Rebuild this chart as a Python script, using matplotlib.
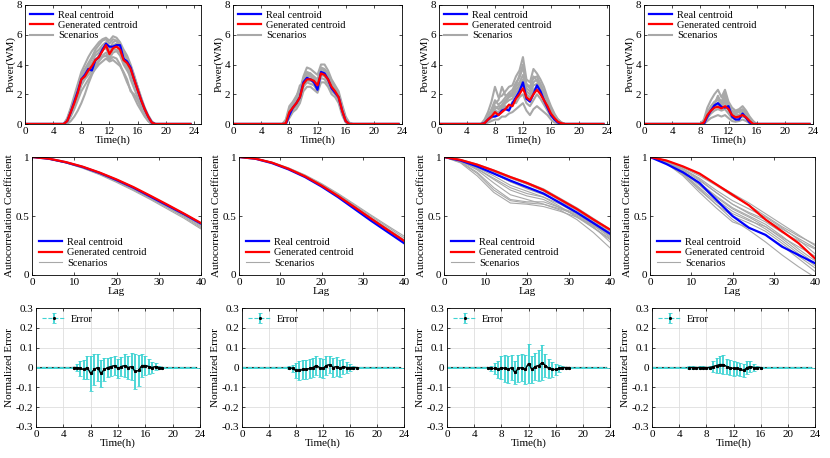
import numpy as np
import matplotlib
matplotlib.use('Agg')
import matplotlib.pyplot as plt
from matplotlib.ticker import FuncFormatter

plt.rcParams['font.family'] = ['Liberation Serif', 'DejaVu Serif']
plt.rcParams['axes.unicode_minus'] = False
plt.rcParams['font.size'] = 8

# half-hour time grid, 0 .. 23.5 h
t = np.arange(48) * 0.5
lag = np.arange(0, 41, 4)

def pad(start, vals):
    # values read only for the daylight part, zero elsewhere
    k = int(round(start * 2))
    return np.array([0.0] * k + list(vals) + [0.0] * (48 - k - len(vals)))

# ---- row 1: power profiles (daylight part, half-hour steps) ----
start_1 = 5.5
real_1 = [0, 0.2, 0.8, 1.5, 2.2, 3.0, 3.3, 3.7, 3.6, 4.3, 4.5, 5.0, 5.4, 5.2, 5.2, 5.3, 5.3, 4.4, 4.2, 3.8, 3.0, 2.3, 1.6, 1.0, 0.5, 0.1, 0]
gen_1 = [0, 0.2, 0.8, 1.4, 2.1, 3.0, 3.2, 3.6, 3.9, 4.3, 4.5, 4.9, 5.3, 4.7, 5.1, 5.2, 5.0, 4.3, 4.1, 3.7, 3.0, 2.3, 1.6, 1.0, 0.5, 0.1, 0]
scen_1 = [
    [0, 0.4, 1.1, 1.9, 2.7, 3.5, 4.0, 4.5, 4.9, 5.2, 5.5, 5.7, 5.8, 5.6, 5.9, 5.8, 5.5, 5.0, 4.6, 4.0, 3.3, 2.5, 1.8, 1.1, 0.5, 0.1, 0],
    [0, 0, 0.2, 0.5, 0.9, 1.4, 2.0, 2.7, 3.3, 3.8, 4.2, 4.5, 4.6, 4.3, 4.5, 4.4, 4.0, 3.4, 2.8, 2.3, 1.8, 1.3, 0.9, 0.5, 0.2, 0, 0],
    [0, 0.3, 1.0, 1.7, 2.5, 3.2, 3.5, 3.9, 4.4, 4.8, 5.0, 5.3, 5.5, 5.0, 5.5, 5.6, 5.2, 4.7, 4.4, 3.9, 3.2, 2.5, 1.7, 1.1, 0.6, 0.2, 0],
    [0, 0.1, 0.6, 1.2, 1.8, 2.6, 3.0, 3.3, 3.6, 4.0, 4.3, 4.6, 4.8, 4.4, 4.8, 4.9, 4.6, 4.0, 3.6, 3.2, 2.6, 2.0, 1.4, 0.8, 0.3, 0, 0],
    [0, 0.2, 0.9, 1.6, 2.4, 3.3, 3.7, 4.1, 4.5, 5.0, 5.3, 5.6, 5.7, 5.4, 5.7, 5.6, 5.3, 4.9, 4.4, 3.6, 2.9, 2.1, 1.4, 0.8, 0.3, 0.05, 0],
    [0, 0.1, 0.5, 1.0, 1.6, 2.2, 2.6, 3.0, 3.4, 3.7, 4.0, 4.2, 4.4, 4.2, 4.3, 4.1, 3.9, 3.5, 3.0, 2.2, 2.0, 1.6, 1.1, 0.6, 0.2, 0, 0],
    [0, 0.3, 0.9, 1.5, 2.2, 2.9, 3.4, 3.8, 4.1, 4.6, 4.8, 5.1, 5.2, 4.9, 5.3, 5.4, 5.1, 4.5, 4.0, 3.4, 2.7, 1.9, 1.3, 0.8, 0.4, 0.1, 0],
    [0, 0.2, 0.7, 1.3, 2.0, 2.8, 3.1, 3.5, 3.8, 4.2, 4.6, 5.0, 5.1, 4.6, 5.0, 5.0, 4.8, 4.2, 3.8, 3.0, 2.4, 1.8, 1.2, 0.7, 0.3, 0.05, 0],
]

start_2 = 7.0
real_2 = [0, 0, 0.6, 1.1, 1.4, 1.8, 2.8, 3.1, 3.0, 2.8, 2.3, 3.5, 3.4, 3.0, 2.4, 2.1, 1.8, 0.9, 0.2, 0, 0]
gen_2 = [0, 0.05, 0.8, 1.1, 1.4, 1.8, 2.7, 3.0, 3.0, 2.9, 2.6, 3.4, 3.3, 3.0, 2.5, 2.2, 1.8, 0.9, 0.2, 0, 0]
scen_2 = [
    [0, 0.3, 1.2, 1.5, 1.9, 2.3, 3.2, 3.8, 3.7, 3.5, 3.3, 4.0, 4.0, 3.6, 3.0, 2.6, 2.2, 1.3, 0.5, 0.1, 0],
    [0, 0, 0.4, 0.8, 1.0, 1.4, 2.2, 2.5, 2.5, 2.3, 2.1, 2.8, 2.8, 2.5, 2.0, 1.8, 1.4, 0.6, 0.1, 0, 0],
    [0, 0.2, 0.9, 1.3, 1.6, 2.1, 3.0, 3.4, 3.3, 3.1, 2.8, 3.7, 3.6, 3.3, 2.8, 2.4, 2.0, 1.1, 0.3, 0, 0],
    [0, 0.1, 0.7, 1.0, 1.2, 1.6, 2.5, 2.8, 2.7, 2.6, 2.4, 3.1, 3.0, 2.7, 2.2, 2.0, 1.6, 0.8, 0.2, 0, 0],
    [0, 0.2, 1.0, 1.4, 1.7, 2.0, 2.9, 3.2, 3.2, 3.0, 2.7, 3.5, 3.5, 3.2, 2.6, 2.3, 1.9, 1.0, 0.3, 0.05, 0],
    [0, 0.05, 0.5, 0.9, 1.3, 1.7, 2.6, 2.9, 2.9, 2.8, 2.5, 3.3, 3.2, 2.9, 2.5, 2.1, 1.7, 0.8, 0.2, 0, 0],
    [0, 0.1, 0.6, 1.2, 1.8, 2.6, 2.7, 3.2, 3.4, 3.2, 3.0, 3.8, 3.7, 3.4, 2.7, 2.4, 2.0, 1.2, 0.4, 0.05, 0],
    [0, 0.15, 0.8, 1.2, 1.5, 1.9, 3.0, 3.5, 3.4, 2.6, 2.2, 3.6, 3.3, 3.1, 2.7, 2.3, 1.9, 1.0, 0.3, 0, 0],
]

start_3 = 6.0
real_3 = [0, 0.05, 0.3, 0.5, 0.5, 0.6, 0.9, 1.0, 0.9, 1.4, 1.8, 2.2, 2.8, 1.7, 1.5, 2.0, 2.6, 2.2, 1.6, 1.1, 0.6, 0.3, 0.1, 0, 0]
gen_3 = [0, 0.05, 0.3, 0.5, 0.8, 0.6, 0.8, 1.0, 1.3, 1.2, 1.7, 2.0, 2.4, 1.8, 1.6, 2.0, 2.3, 2.0, 1.6, 1.2, 0.7, 0.4, 0.15, 0.05, 0]
scen_3 = [
    [0, 0.3, 0.8, 1.5, 2.5, 1.8, 1.9, 2.2, 2.5, 2.6, 3.2, 3.6, 4.5, 3.0, 2.8, 3.7, 3.4, 3.0, 2.5, 1.8, 1.2, 0.7, 0.3, 0.1, 0],
    [0, 0, 0.1, 0.2, 0.3, 0.3, 0.5, 0.5, 0.7, 0.8, 1.0, 1.2, 1.4, 0.9, 0.6, 1.0, 1.2, 1.0, 0.8, 0.6, 0.3, 0.1, 0.05, 0, 0],
    [0, 0.1, 0.4, 0.8, 1.2, 1.0, 1.3, 1.6, 1.9, 2.0, 2.5, 2.8, 3.3, 2.4, 2.2, 2.8, 3.0, 2.6, 2.1, 1.5, 1.0, 0.6, 0.3, 0.1, 0],
    [0, 0.05, 0.2, 0.4, 0.6, 0.7, 1.0, 1.2, 1.0, 1.5, 1.4, 1.8, 2.0, 1.4, 1.2, 1.6, 2.0, 1.7, 1.3, 0.9, 0.5, 0.3, 0.1, 0, 0],
    [0, 0.2, 0.5, 1.0, 1.6, 1.3, 1.5, 1.8, 2.1, 2.3, 2.8, 3.1, 3.8, 2.7, 2.5, 3.2, 2.9, 2.4, 1.9, 1.4, 0.9, 0.5, 0.2, 0.05, 0],
    [0, 0.1, 0.3, 0.6, 0.9, 0.8, 1.1, 1.4, 1.6, 1.7, 2.1, 2.4, 2.7, 2.0, 1.8, 2.3, 2.5, 2.2, 1.7, 1.2, 0.7, 0.4, 0.15, 0, 0],
    [0, 0.1, 0.5, 0.9, 1.4, 1.6, 2.5, 1.9, 2.0, 2.1, 2.6, 3.3, 4.0, 2.6, 2.4, 3.1, 3.2, 2.7, 2.2, 1.6, 1.1, 0.6, 0.3, 0.1, 0],
    [0, 0.05, 0.3, 0.7, 1.0, 1.2, 1.2, 1.5, 1.8, 1.9, 2.3, 2.6, 3.0, 2.2, 2.0, 2.6, 2.7, 2.4, 1.9, 1.4, 0.8, 0.5, 0.2, 0.05, 0],
]

start_4 = 8.0
real_4 = [0, 0, 0.5, 0.9, 1.25, 1.4, 1.15, 1.1, 1.2, 0.5, 0.3, 0.3, 0.7, 0.4, 0.1, 0, 0]
gen_4 = [0, 0.1, 0.6, 0.9, 1.1, 1.15, 1.05, 1.2, 1.0, 0.6, 0.45, 0.5, 0.6, 0.45, 0.2, 0, 0]
scen_4 = [
    [0, 0.3, 1.1, 1.6, 2.0, 2.3, 1.8, 2.3, 1.5, 1.1, 0.9, 1.0, 1.2, 0.9, 0.5, 0.2, 0],
    [0, 0, 0.2, 0.4, 0.5, 0.6, 0.5, 0.6, 0.4, 0.2, 0.15, 0.2, 0.3, 0.2, 0.05, 0, 0],
    [0, 0.2, 0.8, 1.2, 1.5, 1.6, 1.4, 1.7, 1.2, 0.8, 0.7, 0.8, 0.9, 0.7, 0.4, 0.1, 0],
    [0, 0.05, 0.4, 0.7, 0.9, 1.0, 0.9, 1.0, 0.7, 0.4, 0.3, 0.4, 0.5, 0.4, 0.15, 0, 0],
    [0, 0.1, 0.6, 1.0, 1.3, 1.9, 1.3, 1.5, 1.0, 0.7, 0.6, 0.6, 0.8, 0.6, 0.3, 0.05, 0],
    [0, 0.1, 0.5, 0.8, 1.1, 1.3, 1.1, 1.9, 0.9, 0.5, 0.4, 0.5, 0.7, 0.5, 0.2, 0.05, 0],
    [0, 0.15, 0.7, 1.1, 1.4, 1.8, 1.5, 2.1, 1.3, 0.9, 0.8, 0.9, 1.0, 0.8, 0.4, 0.1, 0],
    [0, 0.1, 0.4, 0.9, 1.2, 1.4, 1.2, 1.4, 1.1, 0.6, 0.5, 0.6, 0.8, 0.6, 0.3, 0.1, 0],
]

# ---- row 2: autocorrelation at lags 0,4,...,40 ----
acf_real_1 = [1.0, 0.985, 0.955, 0.915, 0.865, 0.805, 0.74, 0.665, 0.59, 0.515, 0.435]
acf_gen_1 = [1.0, 0.986, 0.957, 0.918, 0.868, 0.81, 0.745, 0.672, 0.597, 0.52, 0.44]
acf_scen_1 = [
    [1.0, 0.983, 0.95, 0.905, 0.85, 0.785, 0.715, 0.64, 0.56, 0.48, 0.39],
    [1.0, 0.984, 0.952, 0.91, 0.857, 0.795, 0.727, 0.652, 0.575, 0.497, 0.41],
    [1.0, 0.985, 0.954, 0.913, 0.862, 0.8, 0.733, 0.66, 0.583, 0.505, 0.42],
    [1.0, 0.984, 0.951, 0.908, 0.855, 0.792, 0.722, 0.647, 0.57, 0.49, 0.40],
]
acf_real_2 = [1.0, 0.985, 0.948, 0.895, 0.83, 0.75, 0.66, 0.56, 0.46, 0.365, 0.27]
acf_gen_2 = [1.0, 0.986, 0.952, 0.9, 0.836, 0.758, 0.67, 0.575, 0.478, 0.383, 0.29]
acf_scen_2 = [
    [1.0, 0.986, 0.953, 0.903, 0.84, 0.763, 0.677, 0.583, 0.488, 0.395, 0.30],
    [1.0, 0.987, 0.955, 0.906, 0.845, 0.77, 0.685, 0.592, 0.499, 0.408, 0.315],
    [1.0, 0.985, 0.95, 0.898, 0.834, 0.756, 0.668, 0.572, 0.475, 0.38, 0.285],
    [1.0, 0.987, 0.956, 0.908, 0.848, 0.775, 0.691, 0.6, 0.508, 0.418, 0.33],
]
acf_real_3 = [1.0, 0.97, 0.92, 0.86, 0.8, 0.745, 0.69, 0.61, 0.53, 0.44, 0.35]
acf_gen_3 = [1.0, 0.975, 0.935, 0.885, 0.83, 0.78, 0.72, 0.64, 0.56, 0.47, 0.385]
acf_scen_3 = [
    [1.0, 0.95, 0.84, 0.7, 0.61, 0.6, 0.58, 0.54, 0.49, 0.42, 0.34],
    [1.0, 0.96, 0.87, 0.74, 0.64, 0.62, 0.62, 0.57, 0.5, 0.4, 0.3],
    [1.0, 0.975, 0.93, 0.875, 0.82, 0.77, 0.71, 0.63, 0.55, 0.46, 0.37],
    [1.0, 0.97, 0.91, 0.84, 0.76, 0.71, 0.66, 0.58, 0.49, 0.4, 0.31],
    [1.0, 0.965, 0.89, 0.78, 0.68, 0.64, 0.6, 0.55, 0.47, 0.36, 0.23],
    [1.0, 0.978, 0.94, 0.89, 0.835, 0.785, 0.73, 0.65, 0.57, 0.48, 0.39],
    [1.0, 0.972, 0.92, 0.86, 0.79, 0.74, 0.69, 0.61, 0.53, 0.44, 0.35],
    [1.0, 0.968, 0.9, 0.81, 0.72, 0.67, 0.64, 0.57, 0.52, 0.43, 0.33],
    [1.0, 0.975, 0.925, 0.86, 0.79, 0.73, 0.68, 0.62, 0.55, 0.45, 0.36],
    [1.0, 0.97, 0.9, 0.82, 0.74, 0.69, 0.66, 0.6, 0.52, 0.42, 0.32],
    [1.0, 0.978, 0.935, 0.88, 0.825, 0.77, 0.715, 0.635, 0.555, 0.465, 0.38],
    [1.0, 0.955, 0.86, 0.72, 0.63, 0.61, 0.6, 0.56, 0.51, 0.41, 0.28],
]
acf_real_4 = [1.0, 0.94, 0.87, 0.78, 0.64, 0.5, 0.4, 0.34, 0.24, 0.17, 0.1]
acf_gen_4 = [1.0, 0.97, 0.92, 0.86, 0.77, 0.68, 0.59, 0.47, 0.37, 0.27, 0.14]
acf_scen_4 = [
    [1.0, 0.96, 0.89, 0.8, 0.7, 0.6, 0.52, 0.45, 0.36, 0.29, 0.22],
    [1.0, 0.95, 0.85, 0.72, 0.6, 0.47, 0.38, 0.28, 0.17, 0.07, -0.02],
    [1.0, 0.97, 0.91, 0.84, 0.76, 0.67, 0.59, 0.5, 0.41, 0.33, 0.26],
    [1.0, 0.955, 0.87, 0.76, 0.64, 0.54, 0.47, 0.39, 0.29, 0.18, 0.08],
    [1.0, 0.96, 0.88, 0.78, 0.67, 0.57, 0.5, 0.43, 0.33, 0.22, 0.12],
    [1.0, 0.945, 0.84, 0.7, 0.57, 0.45, 0.4, 0.34, 0.25, 0.14, 0.03],
    [1.0, 0.965, 0.9, 0.82, 0.72, 0.63, 0.56, 0.49, 0.4, 0.3, 0.18],
    [1.0, 0.95, 0.86, 0.74, 0.62, 0.52, 0.46, 0.41, 0.32, 0.24, 0.16],
    [1.0, 0.965, 0.9, 0.81, 0.7, 0.6, 0.53, 0.47, 0.39, 0.31, 0.23],
    [1.0, 0.96, 0.88, 0.77, 0.66, 0.56, 0.49, 0.41, 0.31, 0.2, 0.1],
    [1.0, 0.95, 0.86, 0.73, 0.6, 0.5, 0.44, 0.37, 0.27, 0.16, 0.06],
    [1.0, 0.97, 0.92, 0.85, 0.77, 0.69, 0.61, 0.52, 0.43, 0.34, 0.25],
]

# ---- row 3: normalized error, mean and std (daylight part) ----
err_start_1 = 5.5
err_mean_1 = [0, 0, -0.005, -0.01, 0, -0.03, -0.01, 0, -0.03, -0.01, 0, 0.005, 0.01, -0.005, 0.005, 0.01, 0, 0.005, -0.02, -0.015, 0.01, 0.01, 0.005, 0, 0.005, 0, 0]
err_std_1 = [0.005, 0.02, 0.04, 0.05, 0.06, 0.09, 0.08, 0.07, 0.07, 0.06, 0.05, 0.05, 0.05, 0.05, 0.05, 0.06, 0.06, 0.07, 0.09, 0.08, 0.06, 0.05, 0.04, 0.03, 0.02, 0.01, 0]
err_start_2 = 7.0
err_mean_2 = [0, -0.005, -0.015, -0.015, -0.01, -0.01, -0.005, 0, 0.01, 0, -0.005, 0.01, 0.015, 0, 0.005, -0.005, 0.005, 0, 0, 0, 0]
err_std_2 = [0.01, 0.02, 0.04, 0.05, 0.05, 0.05, 0.05, 0.05, 0.05, 0.05, 0.05, 0.05, 0.045, 0.05, 0.05, 0.045, 0.04, 0.03, 0.02, 0.01, 0.005]
err_start_3 = 6.0
err_mean_3 = [0, -0.005, -0.005, -0.01, 0, -0.005, -0.01, 0, -0.025, -0.005, 0, -0.01, 0.02, -0.01, 0.005, 0.01, 0.025, 0.01, -0.005, -0.01, -0.01, -0.005, 0, 0, 0]
err_std_3 = [0.005, 0.015, 0.03, 0.045, 0.06, 0.07, 0.07, 0.065, 0.06, 0.07, 0.07, 0.075, 0.1, 0.07, 0.07, 0.08, 0.09, 0.06, 0.05, 0.04, 0.03, 0.02, 0.01, 0.005, 0]
err_start_4 = 5.5
err_mean_4 = [0, 0, 0, 0, 0, 0, 0, 0.005, 0.01, 0.015, 0.015, 0.005, 0, -0.005, -0.005, -0.01, -0.015, 0, 0.005, 0, 0, 0]
err_std_4 = [0.01, 0.01, 0.005, 0.01, 0.01, 0.005, 0.01, 0.03, 0.04, 0.045, 0.05, 0.04, 0.04, 0.04, 0.035, 0.035, 0.035, 0.035, 0.03, 0.02, 0.01, 0.005]

power = [(start_1, real_1, gen_1, scen_1), (start_2, real_2, gen_2, scen_2),
         (start_3, real_3, gen_3, scen_3), (start_4, real_4, gen_4, scen_4)]
acf = [(acf_real_1, acf_gen_1, acf_scen_1), (acf_real_2, acf_gen_2, acf_scen_2),
       (acf_real_3, acf_gen_3, acf_scen_3), (acf_real_4, acf_gen_4, acf_scen_4)]
errs = [(err_start_1, err_mean_1, err_std_1), (err_start_2, err_mean_2, err_std_2),
        (err_start_3, err_mean_3, err_std_3), (err_start_4, err_mean_4, err_std_4)]

BLUE = '#0000ff'
RED = '#ff0000'
GRAY = '#a8a8a8'
CYAN = '#3fd3d3'

W, H = 830, 458
fig = plt.figure(figsize=(W / 100, H / 100), dpi=100)

def box(l, r, top, bot):
    return [l / W, (H - bot) / H, (r - l) / W, (bot - top) / H]

row1 = [(25, 201), (233, 402), (439, 609), (644, 813)]
row2 = [(32, 201), (239, 404), (444, 610), (650, 815)]
row3 = [(36, 200), (242, 404), (447, 610), (652, 815)]
xmax1 = [25, 24, 24.3, 24]

fmt = FuncFormatter(lambda v, p: '%g' % round(v, 3))

def style(ax):
    ax.tick_params(direction='in', length=2.5, width=0.5, top=True, right=True,
                   labelsize=8, pad=2)
    for s in ax.spines.values():
        s.set_linewidth(0.6)

for i in range(4):
    # power
    ax = fig.add_axes(box(*row1[i], 5, 124))
    st, re, ge, sc = power[i]
    for s in sc:
        hs, = ax.plot(t, pad(st, s), color=GRAY, lw=1.5)
    hr, = ax.plot(t, pad(st, re), color=BLUE, lw=1.6)
    hg, = ax.plot(t, pad(st, ge), color=RED, lw=1.6)
    ax.set_xlim(0, xmax1[i])
    ax.set_ylim(0, 8)
    ax.set_xticks(range(0, 25, 4))
    ax.set_yticks(range(0, 9, 2))
    ax.set_xlabel('Time(h)', labelpad=0)
    ax.set_ylabel('Power(WM)', labelpad=1)
    ax.legend([hr, hg, hs], ['Real centroid', 'Generated centroid', 'Scenarios'],
              loc='upper left', frameon=False, fontsize=7.5, handlelength=2.2,
              borderaxespad=0.1, labelspacing=0.1, handletextpad=0.5)
    style(ax)

    # autocorrelation
    ax = fig.add_axes(box(*row2[i], 157, 275))
    re, ge, sc = acf[i]
    for s in sc:
        hs, = ax.plot(lag, s, color=GRAY, lw=0.8)
    hr, = ax.plot(lag, re, color=BLUE, lw=1.6)
    hg, = ax.plot(lag, ge, color=RED, lw=1.6)
    ax.set_xlim(0, 40)
    ax.set_ylim(0, 1)
    ax.set_xticks(range(0, 41, 10))
    ax.set_yticks([0, 0.5, 1])
    ax.yaxis.set_major_formatter(fmt)
    ax.set_xlabel('Lag', labelpad=0)
    ax.set_ylabel('Autocorrelation Coefficient', labelpad=1)
    ax.legend([hr, hg, hs], ['Real centroid', 'Generated centroid', 'Scenarios'],
              loc='lower left', frameon=False, fontsize=7.5, handlelength=2.2,
              borderaxespad=0.3, labelspacing=0.1, handletextpad=0.5)
    style(ax)

    # normalized error
    ax = fig.add_axes(box(*row3[i], 308, 427))
    st, m, sd = errs[i]
    mean = pad(st, m)
    std = pad(st, sd)
    k0 = int(round(st * 2))
    day = slice(k0, k0 + len(m))
    ax.plot(t, mean, color='#303030', lw=0.8, zorder=1.5)
    ax.errorbar(t, mean, yerr=std, fmt='--', marker='.', markevery=day,
                color=CYAN, ecolor=CYAN, mfc='k', mec='k', ms=2.5, lw=0.8,
                elinewidth=1.3, capsize=1.5, capthick=0.6, label='Error')
    ax.plot(t[day], mean[day], color='k', lw=0.9, marker='.', ms=2.5, zorder=3)
    ax.set_xlim(0, 24)
    ax.set_ylim(-0.3, 0.3)
    ax.set_xticks(range(0, 25, 4))
    ax.set_yticks(np.round(np.arange(-0.3, 0.31, 0.1), 1))
    ax.yaxis.set_major_formatter(fmt)
    ax.grid(True, color='#dedede', lw=0.6)
    ax.set_axisbelow(True)
    ax.set_xlabel('Time(h)', labelpad=0)
    ax.set_ylabel('Normalized Error', labelpad=1)
    ax.legend(loc='upper left', frameon=False, fontsize=7.5, handlelength=2.2,
              borderaxespad=0.2, handletextpad=0.5)
    style(ax)

fig.savefig('out.png', dpi=100)
